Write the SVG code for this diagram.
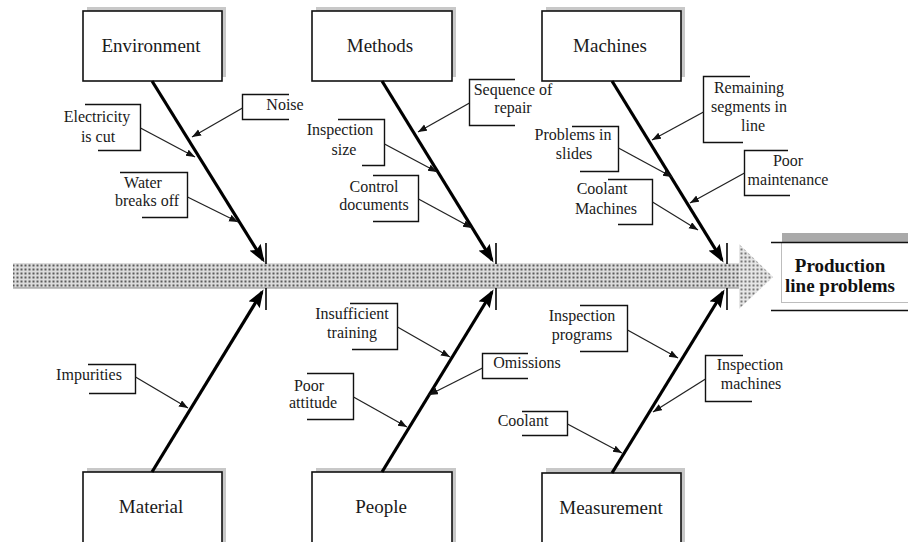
<svg xmlns="http://www.w3.org/2000/svg" width="908" height="542" viewBox="0 0 908 542">
<style>
.bg{fill:#ffffff}
.shadow{fill:#c8c8c8}
.box{fill:#ffffff;stroke:#111;stroke-width:1.6}
.big{font-family:"Liberation Serif","Times New Roman",serif;font-size:19px;fill:#1a1a1a;text-anchor:middle}
.lbl{font-family:"Liberation Serif","Times New Roman",serif;font-size:16px;fill:#1a1a1a;text-anchor:middle}
.head{font-family:"Liberation Serif","Times New Roman",serif;font-size:19px;font-weight:bold;fill:#111;text-anchor:middle}
.brk{fill:none;stroke:#111;stroke-width:1.4}
.bone{stroke:#000;stroke-width:3.2;fill:none;marker-end:url(#bigArrow)}
.sub{stroke:#222;stroke-width:1.3;fill:none;marker-end:url(#smallArrow)}
.tick{stroke:#000;stroke-width:1.6}
</style>
<defs>
<pattern id="dots" width="4" height="4" patternUnits="userSpaceOnUse">
<rect width="4" height="4" fill="#dcdcdc"/>
<rect x="0.5" y="0.5" width="2" height="2" fill="#5a5a5a"/>
</pattern>
<pattern id="dotsLight" width="4" height="4" patternUnits="userSpaceOnUse">
<rect width="4" height="4" fill="#e6e6e6"/>
<rect x="0.5" y="0.5" width="2" height="2" fill="#777"/>
</pattern>
<marker id="bigArrow" markerUnits="userSpaceOnUse" markerWidth="20" markerHeight="13" refX="15" refY="6.5" orient="auto">
<path d="M0,0 L18,6.5 L0,13 L3,6.5 z" fill="#000"/>
</marker>
<marker id="smallArrow" markerUnits="userSpaceOnUse" markerWidth="10" markerHeight="8" refX="9" refY="3.5" orient="auto">
<path d="M0,0 L9,3.5 L0,7 z" fill="#111"/>
</marker>
</defs>
<rect class="bg" x="0" y="0" width="908" height="542"/>

<g id="spine">
<rect x="13" y="263" width="727" height="25" fill="url(#dots)"/>
<line x1="13" y1="288" x2="740" y2="288" stroke="#888" stroke-width="1.2"/>
<path d="M739,244 L773,277 L739,309 z" fill="url(#dotsLight)"/>
</g>

<g id="effect">
<rect x="782" y="233" width="126" height="9" fill="#aaaaaa"/>
<rect x="781.5" y="242.5" width="130" height="60" fill="#fff" stroke="#bdbdbd" stroke-width="1"/>
<line x1="771" y1="242.5" x2="908" y2="242.5" stroke="#111" stroke-width="1.6"/>
<line x1="771" y1="310.5" x2="908" y2="310.5" stroke="#111" stroke-width="1.6"/>
<text class="head" x="840" y="272">Production</text>
<text class="head" x="840" y="292">line problems</text>
</g>

<g id="environment">
<rect class="shadow" x="87" y="7" width="139" height="70"/>
<rect class="box" x="83" y="11" width="139" height="70"/>
<text class="big" x="151" y="52">Environment</text>
</g>
<g id="methods">
<rect class="shadow" x="316" y="7" width="140" height="70"/>
<rect class="box" x="312" y="11" width="140" height="70"/>
<text class="big" x="380" y="52">Methods</text>
</g>
<g id="machines">
<rect class="shadow" x="546" y="7" width="139" height="70"/>
<rect class="box" x="542" y="11" width="139" height="70"/>
<text class="big" x="610" y="52">Machines</text>
</g>
<g id="material">
<rect class="shadow" x="87" y="468" width="139" height="80"/>
<rect class="box" x="83" y="472" width="139" height="80"/>
<text class="big" x="151" y="513">Material</text>
</g>
<g id="people">
<rect class="shadow" x="316" y="468" width="140" height="80"/>
<rect class="box" x="312" y="472" width="140" height="80"/>
<text class="big" x="381" y="513">People</text>
</g>
<g id="measurement">
<rect class="shadow" x="546" y="468" width="139" height="80"/>
<rect class="box" x="542" y="473" width="139" height="80"/>
<text class="big" x="611" y="514">Measurement</text>
</g>

<g id="label-noise">
<path class="brk" d="M289,94.5 H242.5 V119.5 H289"/>
<text class="lbl" x="285" y="110">Noise</text>
</g>
<g id="label-electricity">
<path class="brk" d="M85,104.5 H140.5 V150.5 H98"/>
<text class="lbl" x="97" y="122">Electricity</text>
<text class="lbl" x="98" y="142">is cut</text>
</g>
<g id="label-water">
<path class="brk" d="M120,172.5 H187.5 V217.5 H142"/>
<text class="lbl" x="143" y="188">Water</text>
<text class="lbl" x="147" y="206">breaks off</text>
</g>
<g id="label-sequence">
<path class="brk" d="M515,79.5 H469.5 V125.5 H515"/>
<text class="lbl" x="513" y="95">Sequence of</text>
<text class="lbl" x="513" y="113">repair</text>
</g>
<g id="label-inspection-size">
<path class="brk" d="M338,119.5 H384.5 V165.5 H362"/>
<text class="lbl" x="340" y="135">Inspection</text>
<text class="lbl" x="344" y="155">size</text>
</g>
<g id="label-control">
<path class="brk" d="M373,175.5 H418.5 V221.5 H373"/>
<text class="lbl" x="374" y="192">Control</text>
<text class="lbl" x="374" y="210">documents</text>
</g>
<g id="label-remaining">
<path class="brk" d="M750,76.5 H703.5 V142.5 H743"/>
<text class="lbl" x="749" y="93">Remaining</text>
<text class="lbl" x="749" y="112">segments in</text>
<text class="lbl" x="753" y="131">line</text>
</g>
<g id="label-slides">
<path class="brk" d="M572,126.5 H618.5 V171.5 H580"/>
<text class="lbl" x="573" y="140">Problems in</text>
<text class="lbl" x="574" y="159">slides</text>
</g>
<g id="label-maintenance">
<path class="brk" d="M788,150.5 H744.5 V195.5 H790"/>
<text class="lbl" x="788" y="166">Poor</text>
<text class="lbl" x="788" y="185">maintenance</text>
</g>
<g id="label-coolant-machines">
<path class="brk" d="M608,179.5 H652.5 V224.5 H618"/>
<text class="lbl" x="602" y="194">Coolant</text>
<text class="lbl" x="606" y="214">Machines</text>
</g>
<g id="label-impurities">
<path class="brk" d="M88,364.5 H135.5 V393.5 H89"/>
<text class="lbl" x="89" y="380">Impurities</text>
</g>
<g id="label-training">
<path class="brk" d="M350,303.5 H397.5 V349.5 H352"/>
<text class="lbl" x="352" y="319">Insufficient</text>
<text class="lbl" x="352" y="338">training</text>
</g>
<g id="label-omissions">
<path class="brk" d="M528,353.5 H482.5 V378.5 H528"/>
<text class="lbl" x="527" y="368">Omissions</text>
</g>
<g id="label-attitude">
<path class="brk" d="M307,373.5 H353.5 V419.5 H307"/>
<text class="lbl" x="309" y="391">Poor</text>
<text class="lbl" x="313" y="408">attitude</text>
</g>
<g id="label-programs">
<path class="brk" d="M580,305.5 H627.5 V351.5 H580"/>
<text class="lbl" x="582" y="321">Inspection</text>
<text class="lbl" x="582" y="340">programs</text>
</g>
<g id="label-insp-machines">
<path class="brk" d="M743,355.5 H705.5 V401.5 H752"/>
<text class="lbl" x="750" y="370">Inspection</text>
<text class="lbl" x="751" y="389">machines</text>
</g>
<g id="label-coolant">
<path class="brk" d="M522,411.5 H567.5 V435.5 H522"/>
<text class="lbl" x="523" y="426">Coolant</text>
</g>

<g id="connectors">
<line class="tick" x1="266" y1="243" x2="266" y2="264"/>
<line class="tick" x1="266" y1="288" x2="266" y2="310"/>
<line class="tick" x1="496" y1="243" x2="496" y2="264"/>
<line class="tick" x1="496" y1="288" x2="496" y2="310"/>
<line class="tick" x1="727" y1="243" x2="727" y2="264"/>
<line class="tick" x1="727" y1="288" x2="727" y2="310"/>

<line class="bone" x1="152" y1="81" x2="263" y2="260"/>
<line class="bone" x1="382" y1="81" x2="492" y2="260"/>
<line class="bone" x1="612" y1="81" x2="722" y2="260"/>
<line class="bone" x1="152" y1="472" x2="262" y2="292"/>
<line class="bone" x1="382" y1="472" x2="492" y2="292"/>
<line class="bone" x1="612" y1="473" x2="723" y2="292"/>

<line class="sub" x1="242.5" y1="108" x2="192" y2="137"/>
<line class="sub" x1="140.5" y1="128" x2="195" y2="157"/>
<line class="sub" x1="187.5" y1="197" x2="238" y2="222"/>
<line class="sub" x1="469.5" y1="103" x2="418" y2="132"/>
<line class="sub" x1="384.5" y1="144" x2="437" y2="172"/>
<line class="sub" x1="418.5" y1="199" x2="472" y2="228"/>
<line class="sub" x1="703.5" y1="112" x2="652" y2="140"/>
<line class="sub" x1="618.5" y1="148" x2="672" y2="177"/>
<line class="sub" x1="744.5" y1="173" x2="690" y2="203"/>
<line class="sub" x1="652.5" y1="202" x2="698" y2="230"/>
<line class="sub" x1="135.5" y1="377" x2="188" y2="408"/>
<line class="sub" x1="397.5" y1="327" x2="450" y2="357"/>
<line class="sub" x1="482.5" y1="368" x2="429" y2="395"/>
<line class="sub" x1="353.5" y1="397" x2="407" y2="427"/>
<line class="sub" x1="627.5" y1="330" x2="678" y2="358"/>
<line class="sub" x1="705.5" y1="379" x2="653" y2="412"/>
<line class="sub" x1="567.5" y1="424" x2="622" y2="453"/>
</g>
</svg>
